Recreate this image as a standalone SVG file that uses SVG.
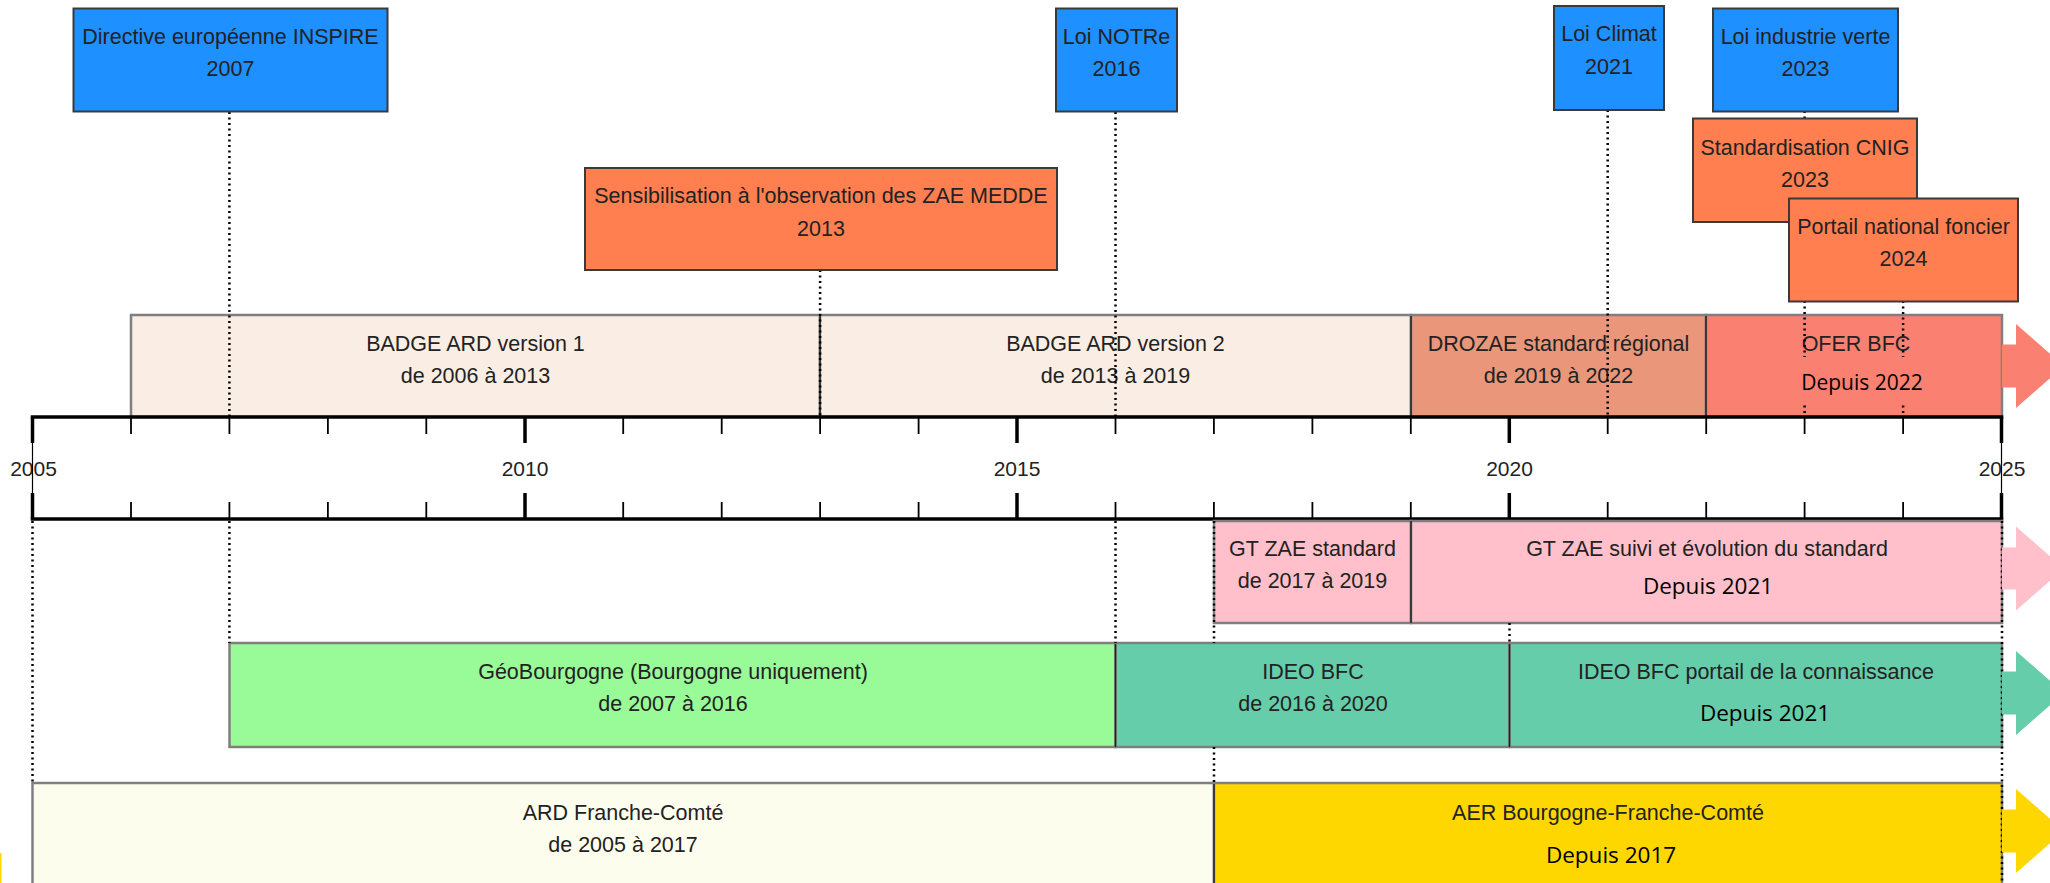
<svg xmlns="http://www.w3.org/2000/svg" width="2050" height="883" viewBox="0 0 2050 883">
<style>
.t{font-family:"Liberation Sans",Arial,sans-serif;font-size:21.5px;fill:#222;text-anchor:middle}
.y{font-family:"Liberation Sans",Arial,sans-serif;font-size:21px;fill:#222;text-anchor:middle}
.d{font-family:"Open Sans","Noto Sans",sans-serif;font-size:22.5px;fill:#000;text-anchor:middle}
.ev{stroke:#3a3a3a;stroke-width:2}
.blue{fill:#1E90FF}
.orange{fill:#FF7F50}
.rg{stroke:#7f7f7f;stroke-width:2.5}
.sep{stroke:#222;stroke-width:1.5}
.dot{stroke:#000;stroke-width:2.5;stroke-dasharray:2 3.5;fill:none}
.maj{stroke:#000;stroke-width:3.5}
.min{stroke:#000;stroke-width:1.8}
</style>
<rect width="2050" height="883" fill="#fff"/>

<!-- upper range boxes -->
<g id="badge1"><rect class="rg" x="131" y="315" width="689" height="102" fill="#FAEEE4"/><text class="t" x="475.5" y="350.5">BADGE ARD version 1</text><text class="t" x="475.5" y="382.5">de 2006 à 2013</text></g>
<g id="badge2"><rect class="rg" x="820" y="315" width="591" height="102" fill="#FAEEE4"/><text class="t" x="1115.5" y="350.5">BADGE ARD version 2</text><text class="t" x="1115.5" y="382.5">de 2013 à 2019</text></g>
<g id="drozae"><rect class="rg" x="1411" y="315" width="295" height="102" fill="#E9967A"/><text class="t" x="1558.5" y="350.5">DROZAE standard régional</text><text class="t" x="1558.5" y="382.5">de 2019 à 2022</text></g>
<g id="ofer"><rect class="rg" x="1706" y="315" width="296" height="102" fill="#FA8072"/><text class="t" x="1856" y="350.5">OFER BFC</text><polygon points="2002,344.5 2016,344.5 2016,324 2064,366 2016,408 2016,387.5 2002,387.5" fill="#FA8072"/></g>
<line class="sep" x1="820" y1="316" x2="820" y2="417"/>
<line class="sep" x1="1411" y1="316" x2="1411" y2="417"/>
<line class="sep" x1="1706" y1="316" x2="1706" y2="417"/>

<!-- axis -->
<g id="axis">
<rect x="32.5" y="417" width="1969" height="102" fill="#fff"/>
<text class="y" x="33.5" y="476">2005</text>
<text class="y" x="525" y="476">2010</text>
<text class="y" x="1017" y="476">2015</text>
<text class="y" x="1509.5" y="476">2020</text>
<text class="y" x="2002" y="476">2025</text>
<line x1="32.5" y1="417" x2="32.5" y2="519" stroke="#000" stroke-width="1.2"/>
<line x1="2001.5" y1="417" x2="2001.5" y2="519" stroke="#000" stroke-width="1.2"/>
<line x1="30.75" y1="417" x2="2003.25" y2="417" stroke="#000" stroke-width="3.5"/>
<line x1="30.75" y1="519" x2="2003.25" y2="519" stroke="#000" stroke-width="3.5"/>
<g class="maj">
<line x1="32.5" y1="417" x2="32.5" y2="443"/><line x1="32.5" y1="493" x2="32.5" y2="519"/>
<line x1="525" y1="417" x2="525" y2="443"/><line x1="525" y1="493" x2="525" y2="519"/>
<line x1="1017" y1="417" x2="1017" y2="443"/><line x1="1017" y1="493" x2="1017" y2="519"/>
<line x1="1509.3" y1="417" x2="1509.3" y2="443"/><line x1="1509.3" y1="493" x2="1509.3" y2="519"/>
<line x1="2001.5" y1="417" x2="2001.5" y2="443"/><line x1="2001.5" y1="493" x2="2001.5" y2="519"/>
</g>
<g class="min">
<line x1="131" y1="417" x2="131" y2="434"/><line x1="131" y1="502" x2="131" y2="519"/>
<line x1="229.4" y1="417" x2="229.4" y2="434"/><line x1="229.4" y1="502" x2="229.4" y2="519"/>
<line x1="327.9" y1="417" x2="327.9" y2="434"/><line x1="327.9" y1="502" x2="327.9" y2="519"/>
<line x1="426.3" y1="417" x2="426.3" y2="434"/><line x1="426.3" y1="502" x2="426.3" y2="519"/>
<line x1="623.2" y1="417" x2="623.2" y2="434"/><line x1="623.2" y1="502" x2="623.2" y2="519"/>
<line x1="721.7" y1="417" x2="721.7" y2="434"/><line x1="721.7" y1="502" x2="721.7" y2="519"/>
<line x1="820.1" y1="417" x2="820.1" y2="434"/><line x1="820.1" y1="502" x2="820.1" y2="519"/>
<line x1="918.6" y1="417" x2="918.6" y2="434"/><line x1="918.6" y1="502" x2="918.6" y2="519"/>
<line x1="1115.5" y1="417" x2="1115.5" y2="434"/><line x1="1115.5" y1="502" x2="1115.5" y2="519"/>
<line x1="1213.9" y1="417" x2="1213.9" y2="434"/><line x1="1213.9" y1="502" x2="1213.9" y2="519"/>
<line x1="1312.4" y1="417" x2="1312.4" y2="434"/><line x1="1312.4" y1="502" x2="1312.4" y2="519"/>
<line x1="1410.8" y1="417" x2="1410.8" y2="434"/><line x1="1410.8" y1="502" x2="1410.8" y2="519"/>
<line x1="1607.7" y1="417" x2="1607.7" y2="434"/><line x1="1607.7" y1="502" x2="1607.7" y2="519"/>
<line x1="1706.2" y1="417" x2="1706.2" y2="434"/><line x1="1706.2" y1="502" x2="1706.2" y2="519"/>
<line x1="1804.6" y1="417" x2="1804.6" y2="434"/><line x1="1804.6" y1="502" x2="1804.6" y2="519"/>
<line x1="1903.1" y1="417" x2="1903.1" y2="434"/><line x1="1903.1" y1="502" x2="1903.1" y2="519"/>
</g>
</g>

<!-- lower range boxes -->
<g id="gtzae1"><rect class="rg" x="1214" y="521" width="197" height="102" fill="#FFC0CB"/><text class="t" x="1312.5" y="555.5">GT ZAE standard</text><text class="t" x="1312.5" y="587.5">de 2017 à 2019</text></g>
<g id="gtzae2"><rect class="rg" x="1411" y="521" width="591" height="102" fill="#FFC0CB"/><text class="t" x="1707" y="555.5">GT ZAE suivi et évolution du standard</text><text class="d" x="1708" y="594">Depuis 2021</text></g>
<line class="sep" x1="1411" y1="521" x2="1411" y2="623"/>
<g id="geobourgogne"><rect class="rg" x="229.5" y="643" width="886" height="104" fill="#98FB98"/><text class="t" x="673" y="678.5">GéoBourgogne (Bourgogne uniquement)</text><text class="t" x="673" y="710.5">de 2007 à 2016</text></g>
<g id="ideo1"><rect class="rg" x="1115.5" y="643" width="394" height="104" fill="#66CDAA"/><text class="t" x="1313" y="678.5">IDEO BFC</text><text class="t" x="1313" y="710.5">de 2016 à 2020</text></g>
<g id="ideo2"><rect class="rg" x="1509.5" y="643" width="492.5" height="104" fill="#66CDAA"/><text class="t" x="1756" y="678.5">IDEO BFC portail de la connaissance</text><text class="d" x="1765" y="721">Depuis 2021</text></g>
<line class="sep" x1="1115.5" y1="644" x2="1115.5" y2="747"/>
<line class="sep" x1="1509.5" y1="644" x2="1509.5" y2="747"/>
<g id="ardfc"><rect class="rg" x="32.5" y="783" width="1181.5" height="110" fill="#FDFDEE"/><text class="t" x="623" y="819.5">ARD Franche-Comté</text><text class="t" x="623" y="851.5">de 2005 à 2017</text></g>
<g id="aer"><rect class="rg" x="1214" y="783" width="788" height="110" fill="#FFD700"/><text class="t" x="1608" y="819.5">AER Bourgogne-Franche-Comté</text><text class="d" x="1611" y="863">Depuis 2017</text></g>
<line class="sep" x1="1214" y1="784" x2="1214" y2="883"/>
<rect x="0" y="853" width="1.5" height="30" fill="#FFD700"/>

<!-- connectors (dotted guide lines) -->
<g id="connectors" class="dot">
<line x1="229.4" y1="112" x2="229.4" y2="416"/>
<line x1="820.1" y1="270" x2="820.1" y2="416"/>
<line x1="1115.5" y1="112" x2="1115.5" y2="416"/>
<line x1="1607.7" y1="110" x2="1607.7" y2="416"/>
<line x1="1804.6" y1="111" x2="1804.6" y2="118"/>
<line x1="1804.6" y1="301" x2="1804.6" y2="416"/>
<line x1="1903.1" y1="301" x2="1903.1" y2="416"/>
<line x1="32.5" y1="521" x2="32.5" y2="783"/>
<line x1="229.4" y1="521" x2="229.4" y2="643"/>
<line x1="1115.5" y1="521" x2="1115.5" y2="643"/>
<line x1="1214" y1="521" x2="1214" y2="643"/>
<line x1="1214" y1="747" x2="1214" y2="783"/>
<line x1="1509.5" y1="623" x2="1509.5" y2="643"/>
<line x1="2002" y1="521" x2="2002" y2="883"/>
</g>

<!-- Depuis 2022 label box -->
<g id="ofer-depuis"><rect x="1790" y="357" width="150" height="48" fill="#FA8072"/><text class="d" x="1862" y="389.5" style="font-size:21px">Depuis 2022</text></g>

<!-- arrows -->
<g id="arrows">
<polygon points="2002,547.5 2016,547.5 2016,526.5 2064,568.5 2016,610.5 2016,589.5 2002,589.5" fill="#FFC0CB"/>
<polygon points="2002,671.5 2016,671.5 2016,651 2064,693 2016,735 2016,714.5 2002,714.5" fill="#66CDAA"/>
<polygon points="2002,809.5 2016,809.5 2016,789 2064,831 2016,873 2016,852.5 2002,852.5" fill="#FFD700"/>
</g>

<!-- event boxes -->
<g id="inspire"><rect class="ev blue" x="73.5" y="8.5" width="314" height="103"/><text class="t" x="230.5" y="43.5">Directive européenne INSPIRE</text><text class="t" x="230.5" y="75.5">2007</text></g>
<g id="notre"><rect class="ev blue" x="1056" y="8.5" width="121" height="103"/><text class="t" x="1116.5" y="43.5">Loi NOTRe</text><text class="t" x="1116.5" y="75.5">2016</text></g>
<g id="climat"><rect class="ev blue" x="1554" y="6" width="110" height="104"/><text class="t" x="1609" y="40.5">Loi Climat</text><text class="t" x="1609" y="73.5">2021</text></g>
<g id="industrie"><rect class="ev blue" x="1713" y="8.5" width="185" height="103"/><text class="t" x="1805.5" y="43.5">Loi industrie verte</text><text class="t" x="1805.5" y="75.5">2023</text></g>
<g id="medde"><rect class="ev orange" x="585" y="168" width="472" height="102"/><text class="t" x="821" y="202.5">Sensibilisation à l'observation des ZAE MEDDE</text><text class="t" x="821" y="235.5">2013</text></g>
<g id="cnig"><rect class="ev orange" x="1693" y="118.5" width="224" height="103.5"/><text class="t" x="1805" y="154.5">Standardisation CNIG</text><text class="t" x="1805" y="186.5">2023</text></g>
<g id="portail"><rect class="ev orange" x="1789" y="198.5" width="229" height="103"/><text class="t" x="1903.5" y="233.5">Portail national foncier</text><text class="t" x="1903.5" y="265.5">2024</text></g>
</svg>
